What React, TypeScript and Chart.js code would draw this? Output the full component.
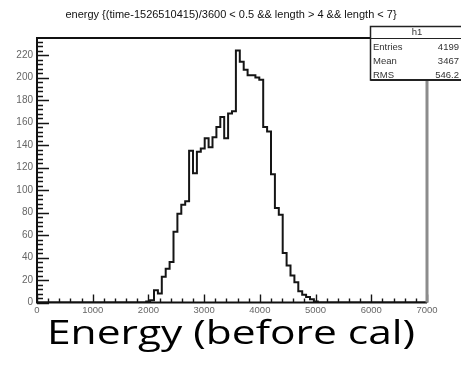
import { useEffect, useRef } from "react";
import { Chart, registerables } from "chart.js";

Chart.register(...registerables);

// Histogram "h1": 100 bins of 70 over [0, 7000]; only bins 28..71 are filled.
const histTitle = "energy {(time-1526510415)/3600 < 0.5 && length > 4 && length < 7}";
const caption = "Energy (before cal)";
const statsName = "h1";
const statsLabels = ["Entries", "Mean", "RMS"];
const statsValues = ["4199", "3467", "546.2"];

const xMin = 0;
const xMax = 7000;
const binWidth = 70;
const firstBinLow = 1960;
const counts = [
  1, 2, 11, 8, 23, 30, 36, 63, 79, 87, 90,
  135, 115, 134, 137, 146, 138, 147, 156, 165, 146,
  168, 170, 224, 214, 207, 202, 202, 200, 198,
  156, 152, 114, 84, 78, 44, 33, 24, 18, 10, 7, 5, 3, 1,
];
const yMax = 235.2; // 1.05 x the tallest bin

const xMajorStep = 1000;
const xMinorStep = 200;
const yMajorStep = 20;
const yMinorStep = 4;

const FONT = "'Liberation Sans', Arial, sans-serif";

function buildPoints() {
  const pts: { x: number; y: number }[] = [{ x: xMin, y: 0 }];
  counts.forEach((c, i) => pts.push({ x: firstBinLow + i * binWidth, y: c }));
  pts.push({ x: firstBinLow + counts.length * binWidth, y: 0 });
  pts.push({ x: xMax, y: 0 });
  return pts;
}

const rootStyle = {
  id: "rootStyle",
  afterDraw(chart: any) {
    const { ctx, chartArea: a, scales } = chart;
    const xs = scales.x;
    const ys = scales.y;
    ctx.save();

    // inward ticks
    ctx.strokeStyle = "#151515";
    ctx.lineWidth = 1.4;
    ctx.beginPath();
    for (let v = xMin; v <= xMax; v += xMinorStep) {
      const px = Math.round(xs.getPixelForValue(v)) + 0.5;
      const len = v % xMajorStep === 0 ? 8 : 4;
      ctx.moveTo(px, a.bottom);
      ctx.lineTo(px, a.bottom - len);
    }
    for (let v = 0; v <= yMax; v += yMinorStep) {
      const py = Math.round(ys.getPixelForValue(v)) + 0.5;
      const len = v % yMajorStep === 0 ? 12 : 6;
      ctx.moveTo(a.left, py);
      ctx.lineTo(a.left + len, py);
    }
    ctx.stroke();

    // frame
    ctx.strokeStyle = "#111";
    ctx.lineWidth = 2;
    ctx.beginPath();
    ctx.moveTo(a.right, a.top);
    ctx.lineTo(a.left, a.top);
    ctx.lineTo(a.left, a.bottom);
    ctx.lineTo(a.right, a.bottom);
    ctx.stroke();
    ctx.strokeStyle = "#8c8c8c";
    ctx.lineWidth = 3;
    ctx.beginPath();
    ctx.moveTo(a.right, a.top);
    ctx.lineTo(a.right, a.bottom);
    ctx.stroke();

    // title
    ctx.fillStyle = "#111";
    ctx.font = `11px ${FONT}`;
    ctx.textAlign = "center";
    ctx.textBaseline = "middle";
    ctx.fillText(histTitle, 231, 15);

    // stats box
    const bx0 = 370.5;
    const by0 = 26.5;
    const bx1 = chart.width + 2;
    const by1 = 80;
    ctx.fillStyle = "#fff";
    ctx.fillRect(bx0, by0, bx1 - bx0, by1 - by0);
    ctx.strokeStyle = "#222";
    ctx.lineWidth = 1.5;
    ctx.strokeRect(bx0, by0, bx1 - bx0, by1 - by0);
    ctx.lineWidth = 2;
    ctx.beginPath();
    ctx.moveTo(bx0, by1);
    ctx.lineTo(bx1, by1);
    ctx.stroke();
    ctx.lineWidth = 1;
    ctx.beginPath();
    ctx.moveTo(bx0, 38.5);
    ctx.lineTo(bx1, 38.5);
    ctx.stroke();

    ctx.fillStyle = "#333";
    ctx.font = `9.5px ${FONT}`;
    ctx.textAlign = "center";
    ctx.fillText(statsName, 417, 32.5);
    const rowY = [47, 61, 75];
    statsLabels.forEach((lab, i) => {
      ctx.textAlign = "left";
      ctx.fillText(lab, 373, rowY[i]);
      ctx.textAlign = "right";
      ctx.fillText(statsValues[i], 459, rowY[i]);
    });

    // caption under the plot
    ctx.fillStyle = "#000";
    ctx.font = `32px 'Open Sans', sans-serif`;
    ctx.textAlign = "left";
    ctx.textBaseline = "alphabetic";
    const w = ctx.measureText(caption).width;
    const target = 368;
    const sx = target / w;
    ctx.translate(47, 344);
    ctx.scale(sx, 1);
    ctx.fillText(caption, 0, 0);
    ctx.restore();
  },
};

export default function App() {
  const ref = useRef<HTMLCanvasElement>(null);

  useEffect(() => {
    if (!ref.current) return;
    const chart = new Chart(ref.current, {
      type: "line",
      data: {
        datasets: [
          {
            data: buildPoints(),
            borderColor: "#151515",
            borderWidth: 2,
            pointRadius: 0,
            stepped: true,
            fill: false,
          },
        ],
      },
      options: {
        responsive: false,
        maintainAspectRatio: false,
        animation: false,
        devicePixelRatio: 1,
        layout: { padding: { left: 0, right: 34, top: 38, bottom: 45.5 } },
        plugins: {
          legend: { display: false },
          tooltip: { enabled: false },
          title: { display: false },
        },
        scales: {
          x: {
            type: "linear",
            min: xMin,
            max: xMax,
            grid: { display: false, drawTicks: false },
            border: { display: false },
            ticks: {
              stepSize: xMajorStep,
              padding: 2,
              autoSkip: false,
              maxRotation: 0,
              color: "#666",
              font: { size: 9.5, family: FONT },
              callback: (v: any) => String(v),
            },
            afterFit: (s: any) => {
              s.height = 20;
            },
          },
          y: {
            type: "linear",
            min: 0,
            max: yMax,
            grid: { display: false, drawTicks: false },
            border: { display: false },
            ticks: {
              stepSize: yMajorStep,
              padding: 4,
              color: "#666",
              font: { size: 10, family: FONT },
              callback: (v: any) => String(v),
            },
            afterBuildTicks: (s: any) => {
              s.ticks = s.ticks.filter((t: any) => t.value % yMajorStep === 0);
            },
            afterFit: (s: any) => {
              s.width = 37;
            },
          },
        },
      },
      plugins: [rootStyle],
    });
    return () => chart.destroy();
  }, []);

  return (
    <div style={{ position: "absolute", left: 0, top: 0, width: 461, height: 368, background: "#fff" }}>
      <canvas ref={ref} width={461} height={368} />
    </div>
  );
}
